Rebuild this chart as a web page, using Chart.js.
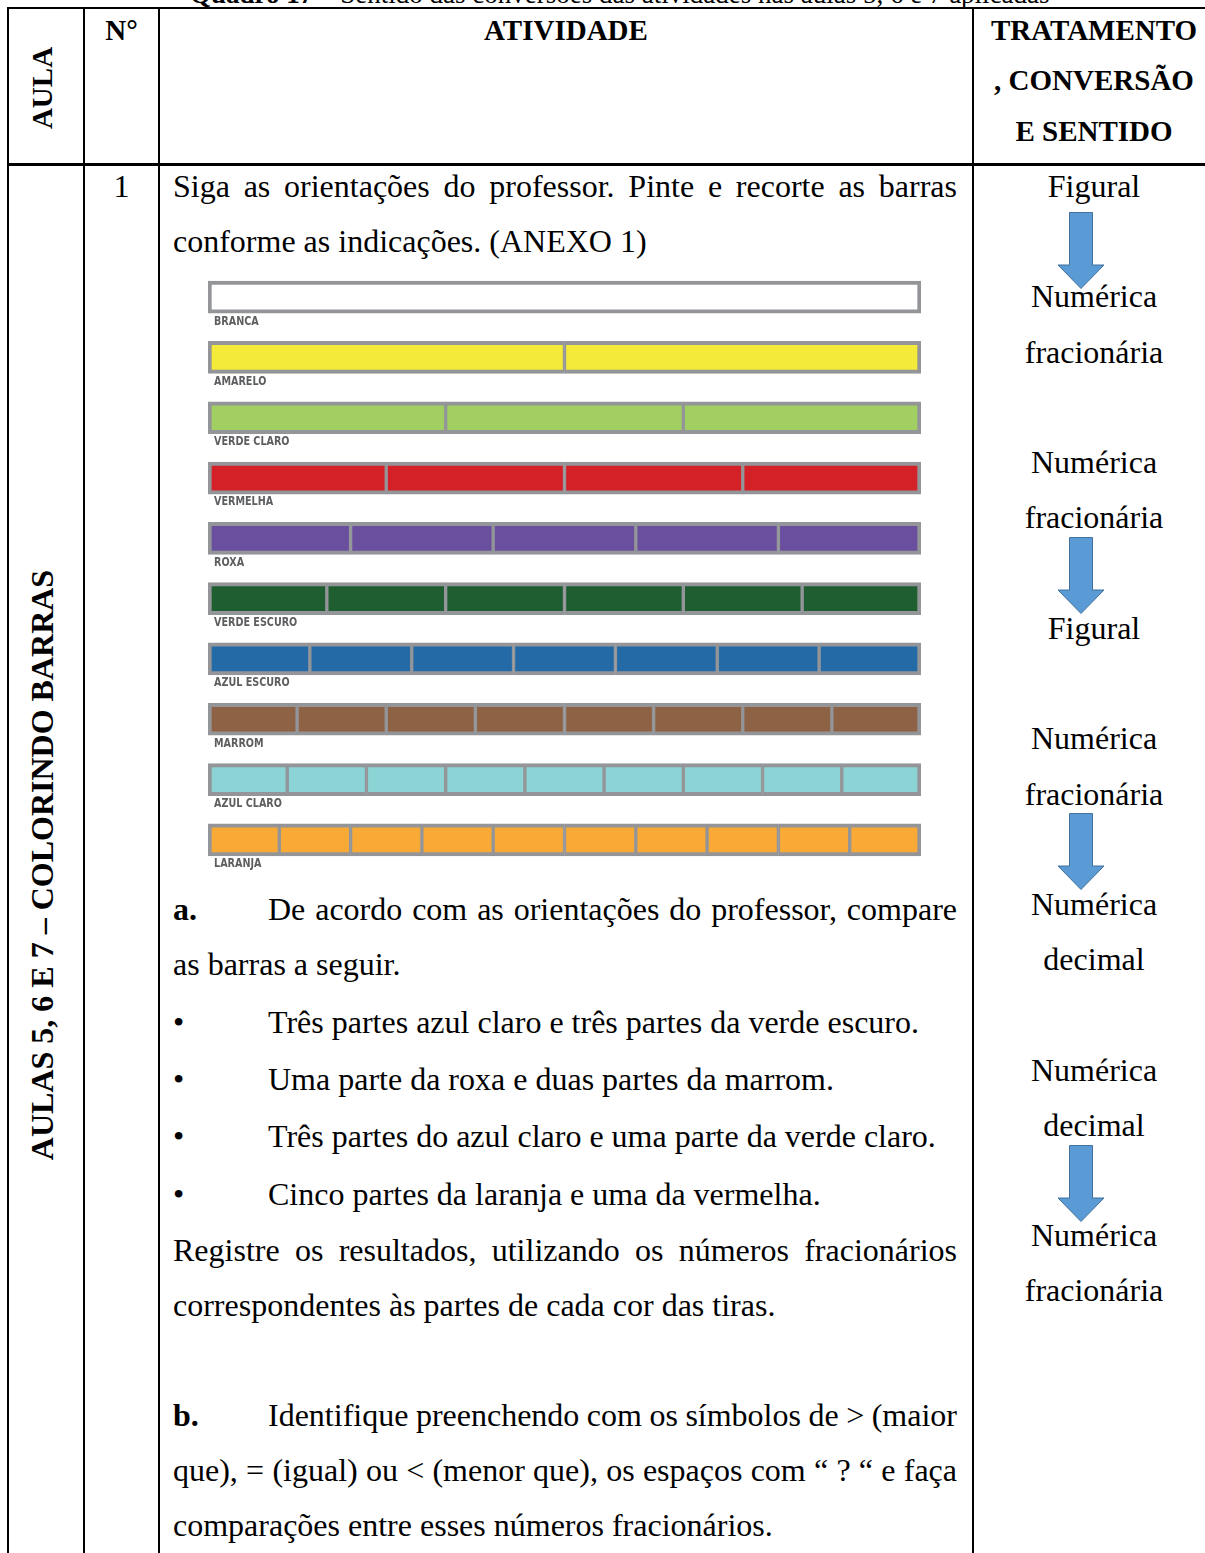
<!DOCTYPE html>
<html>
<head>
<meta charset="utf-8">
<script src="https://cdn.jsdelivr.net/npm/chart.js@4"></script>
<style>
  html, body { margin: 0; padding: 0; background: #fff; }
  #page { position: relative; width: 1205px; height: 1553px; overflow: hidden;
          font-family: "Liberation Serif", "Times New Roman", serif; color: #000; }
  .t { position: absolute; font-size: 32px; line-height: 40px; white-space: nowrap; }
  .h { position: absolute; font-size: 29px; line-height: 40px; font-weight: bold; white-space: nowrap; }
  .j { position: absolute; font-size: 32px; line-height: 40px; text-align: justify; text-align-last: justify; white-space: normal; }
  .c { text-align: center; }
  .vl { position: absolute; width: 2px; background: #000; top: 7px; height: 1560px; }
  .hl { position: absolute; left: 8px; width: 1220px; background: #000; }
  .rot { position: absolute; font-weight: bold; white-space: nowrap; transform: translate(-50%, -50%) rotate(-90deg); line-height: 40px; }
  #chartBox { position: absolute; left: 208px; top: 267px; width: 713px; height: 603px; }
  svg.arrow { position: absolute; overflow: visible; }
</style>
</head>
<body>
<div id="page">
  <!-- titulo cortado no topo -->
  <div class="t" style="left:190px; top:-26px; font-size:27px;"><b>Quadro 17</b> – Sentido das conversões das atividades nas aulas 5, 6 e 7 aplicadas</div>

  <!-- linhas da tabela -->
  <div class="hl" style="top:7px; height:2px;"></div>
  <div class="hl" style="top:163px; height:3px;"></div>
  <div class="vl" style="left:7px;"></div>
  <div class="vl" style="left:83px;"></div>
  <div class="vl" style="left:158px;"></div>
  <div class="vl" style="left:972px;"></div>

  <!-- cabeçalho -->
  <div class="rot" style="left:42px; top:88px; font-size:29px;">AULA</div>
  <div class="h" style="left:84px; width:75px; top:10px; text-align:center;">N°</div>
  <div class="h c" style="left:159px; width:814px; top:10px;">ATIVIDADE</div>
  <div class="h c" style="left:973px; width:242px; top:10px;">TRATAMENTO</div>
  <div class="h c" style="left:973px; width:242px; top:60px;">, CONVERSÃO</div>
  <div class="h c" style="left:973px; width:242px; top:111px;">E SENTIDO</div>

  <div class="rot" style="left:42px; top:865px; font-size:32px;">AULAS 5, 6 E 7 – COLORINDO BARRAS</div>
  <div class="t c" style="left:84px; width:75px; top:166px;">1</div>

  <!-- atividade -->
  <div class="j" style="left:173px; width:784px; top:166px;">Siga as orientações do professor. Pinte e recorte as barras</div>
  <div class="t" style="left:173px; top:221px;">conforme as indicações. (ANEXO 1)</div>

  <div id="chartBox"><canvas id="barras"></canvas></div>

  <div class="t" style="left:173px; top:889px;"><b>a.</b></div>
  <div class="j" style="left:268px; width:689px; top:889px;">De acordo com as orientações do professor, compare</div>
  <div class="t" style="left:173px; top:944px;">as barras a seguir.</div>

  <div class="t" style="left:173px; top:1002px;">•</div>
  <div class="t" style="left:268px; top:1002px;">Três partes azul claro e três partes da verde escuro.</div>
  <div class="t" style="left:173px; top:1059px;">•</div>
  <div class="t" style="left:268px; top:1059px;">Uma parte da roxa e duas partes da marrom.</div>
  <div class="t" style="left:173px; top:1116px;">•</div>
  <div class="t" style="left:268px; top:1116px;">Três partes do azul claro e uma parte da verde claro.</div>
  <div class="t" style="left:173px; top:1174px;">•</div>
  <div class="t" style="left:268px; top:1174px;">Cinco partes da laranja e uma da vermelha.</div>

  <div class="j" style="left:173px; width:784px; top:1230px;">Registre os resultados, utilizando os números fracionários</div>
  <div class="t" style="left:173px; top:1285px;">correspondentes às partes de cada cor das tiras.</div>

  <div class="t" style="left:173px; top:1395px;"><b>b.</b></div>
  <div class="j" style="left:268px; width:689px; top:1395px; word-spacing:-7px;">Identifique preenchendo com os símbolos de &gt; (maior</div>
  <div class="j" style="left:173px; width:784px; top:1450px; word-spacing:-3px;">que), = (igual) ou &lt; (menor que), os espaços com “ ? “ e faça</div>
  <div class="t" style="left:173px; top:1505px;">comparações entre esses números fracionários.</div>

  <!-- setas -->
  <svg class="arrow" style="left:1057px; top:212px;" width="48" height="77"><path d="M12.5 0.5 H35.5 V53 H47 L24 76.5 L1 53 H12.5 Z" fill="#5b9bd5" stroke="#41719c" stroke-width="1"/></svg>
  <svg class="arrow" style="left:1057px; top:537px;" width="48" height="77"><path d="M12.5 0.5 H35.5 V53 H47 L24 76.5 L1 53 H12.5 Z" fill="#5b9bd5" stroke="#41719c" stroke-width="1"/></svg>
  <svg class="arrow" style="left:1057px; top:813px;" width="48" height="77"><path d="M12.5 0.5 H35.5 V53 H47 L24 76.5 L1 53 H12.5 Z" fill="#5b9bd5" stroke="#41719c" stroke-width="1"/></svg>
  <svg class="arrow" style="left:1057px; top:1145px;" width="48" height="77"><path d="M12.5 0.5 H35.5 V53 H47 L24 76.5 L1 53 H12.5 Z" fill="#5b9bd5" stroke="#41719c" stroke-width="1"/></svg>

  <!-- tratamento -->
  <div class="t c" style="left:973px; width:242px; top:166px;">Figural</div>
  <div class="t c" style="left:973px; width:242px; top:276px;">Numérica</div>
  <div class="t c" style="left:973px; width:242px; top:332px;">fracionária</div>
  <div class="t c" style="left:973px; width:242px; top:442px;">Numérica</div>
  <div class="t c" style="left:973px; width:242px; top:497px;">fracionária</div>
  <div class="t c" style="left:973px; width:242px; top:608px;">Figural</div>
  <div class="t c" style="left:973px; width:242px; top:718px;">Numérica</div>
  <div class="t c" style="left:973px; width:242px; top:774px;">fracionária</div>
  <div class="t c" style="left:973px; width:242px; top:884px;">Numérica</div>
  <div class="t c" style="left:973px; width:242px; top:939px;">decimal</div>
  <div class="t c" style="left:973px; width:242px; top:1050px;">Numérica</div>
  <div class="t c" style="left:973px; width:242px; top:1105px;">decimal</div>
  <div class="t c" style="left:973px; width:242px; top:1215px;">Numérica</div>
  <div class="t c" style="left:973px; width:242px; top:1270px;">fracionária</div>
</div>

<script>
// barras do ANEXO 1: nome, número de partes e cor
const barNames = ['BRANCA', 'AMARELO', 'VERDE CLARO', 'VERMELHA', 'ROXA',
                  'VERDE ESCURO', 'AZUL ESCURO', 'MARROM', 'AZUL CLARO', 'LARANJA'];
const barParts = [1, 2, 3, 4, 5, 6, 7, 8, 9, 10];
const barColors = ['#ffffff', '#f4ea3a', '#a2cf62', '#d42027', '#6a4f9f',
                   '#1f5e31', '#246aa6', '#8e6345', '#8bd3d5', '#f9aa36'];
const edgeColor = '#939598';

document.addEventListener('DOMContentLoaded', function () {

    // uma série por parte: a parte k existe só nas barras com mais de k partes
    const maxParts = Math.max(...barParts);
    const datasets = [];
    for (let k = 0; k < maxParts; k++) {
        datasets.push({
            label: 'parte ' + (k + 1),
            data: barParts.map(n => k < n ? 1 / n : null),
            backgroundColor: ctx => barColors[ctx.dataIndex],
            borderColor: edgeColor,
            borderWidth: ctx => {
                const n = barParts[ctx.dataIndex];
                return { top: 4, bottom: 4, left: k === 0 ? 4 : 2, right: k === n - 1 ? 4 : 2 };
            },
            borderSkipped: false,
            barThickness: 32
        });
    }

    // nomes das barras escritos logo abaixo de cada uma (letra estreita)
    const barLabels = {
        id: 'barLabels',
        afterDatasetsDraw(chart) {
            const { ctx, scales: { x, y } } = chart;
            ctx.save();
            ctx.font = 'bold 13px "DejaVu Sans", sans-serif';
            ctx.fillStyle = '#5d5e60';
            ctx.textBaseline = 'middle';
            barNames.forEach((name, i) => {
                ctx.save();
                ctx.translate(x.left + 6, y.getPixelForValue(i) + 24);
                ctx.scale(0.74, 1);
                ctx.fillText(name, 0, 0);
                ctx.restore();
            });
            ctx.restore();
        }
    };

    new Chart(document.getElementById('barras'), {
        type: 'bar',
        data: { labels: barNames, datasets: datasets },
        options: {
            indexAxis: 'y',
            responsive: true,
            maintainAspectRatio: false,
            animation: false,
            devicePixelRatio: 1,
            layout: { padding: 0 },
            scales: {
                x: { stacked: true, min: 0, max: 1, display: false },
                y: { stacked: true, display: false }
            },
            plugins: {
                legend: { display: false },
                tooltip: { enabled: false }
            }
        },
        plugins: [barLabels]
    });

})
</script>
</body>
</html>
